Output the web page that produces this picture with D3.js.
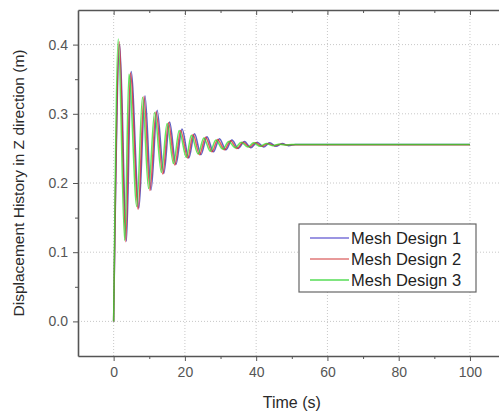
<!DOCTYPE html>
<html>
<head>
<meta charset="utf-8">
<script src="https://cdn.jsdelivr.net/npm/d3@7"></script>
<style>
  body { margin: 0; background: #fff; }
  svg { display: block; font-family: "Liberation Sans", Arial, sans-serif; }
  .axis path, .axis line { stroke: #555; }
  .axis text { fill: #555; font-size: 14px; font-family: "Liberation Sans", Arial, sans-serif; }
</style>
</head>
<body>
<div id="chart"></div>
<script>
const WIDTH = 499, HEIGHT = 414;
const PLOT = {left: 78, top: 10, right: 505.6, bottom: 356};

// series (peaks and troughs)
const seriesNames = ["Mesh Design 1", "Mesh Design 2", "Mesh Design 3"];
const seriesColors = ["#2c2cb0", "#e02a2a", "#2ee02e"];
const legendColors = ["#7a72d8", "#e07878", "#56dc56"];

const time1 = [0, 1.7, 3.6, 4.9, 7.1, 8.8, 10.5, 12.2, 14.1, 15.7, 17.5, 19.2, 21.1, 22.7, 24.5, 26.2, 28.0, 29.7, 31.5, 33.2, 35.0, 36.7, 38.5, 40.3, 42.1, 43.8, 45.6, 47.3, 49.1, 51, 60, 70, 80, 90, 100];
const disp1 = [0, 0.400, 0.116, 0.361, 0.164, 0.326, 0.190, 0.305, 0.214, 0.288, 0.227, 0.278, 0.236, 0.271, 0.241, 0.267, 0.245, 0.264, 0.248, 0.262, 0.250, 0.260, 0.251, 0.259, 0.252, 0.258, 0.253, 0.257, 0.254, 0.2555, 0.2555, 0.2555, 0.2555, 0.2555, 0.2555];

const time2 = [0, 1.6, 3.4, 4.7, 6.9, 8.5, 10.2, 11.9, 13.8, 15.4, 17.2, 18.8, 20.8, 22.3, 24.1, 25.8, 27.6, 29.2, 31.1, 32.8, 34.6, 36.3, 38.1, 39.8, 41.6, 43.3, 45.1, 46.8, 48.6, 50, 60, 70, 80, 90, 100];
const disp2 = [0, 0.404, 0.115, 0.359, 0.162, 0.325, 0.189, 0.303, 0.213, 0.287, 0.226, 0.276, 0.236, 0.270, 0.241, 0.266, 0.245, 0.263, 0.248, 0.261, 0.250, 0.259, 0.252, 0.258, 0.253, 0.257, 0.254, 0.256, 0.255, 0.2552, 0.2552, 0.2552, 0.2552, 0.2552, 0.2552];

const time3 = [0, 1.3, 3.1, 4.3, 6.5, 8.1, 9.8, 11.5, 13.4, 15.0, 16.8, 18.4, 20.4, 21.8, 23.7, 25.3, 27.1, 28.7, 30.6, 32.3, 34.1, 35.8, 37.6, 39.3, 41.1, 42.8, 44.6, 46.3, 48.1, 50, 60, 70, 80, 90, 100];
const disp3 = [0, 0.408, 0.117, 0.357, 0.166, 0.324, 0.192, 0.302, 0.215, 0.286, 0.228, 0.276, 0.237, 0.269, 0.242, 0.265, 0.246, 0.262, 0.249, 0.260, 0.251, 0.259, 0.252, 0.258, 0.253, 0.257, 0.254, 0.256, 0.255, 0.2555, 0.2555, 0.2555, 0.2555, 0.2555, 0.2555];

const xTicks = [0, 20, 40, 60, 80, 100];
const xMinor = [10, 30, 50, 70, 90];
const yTicks = [0.0, 0.1, 0.2, 0.3, 0.4];
const yMinor = [0.05, 0.15, 0.25, 0.35];

const series = [
  {name: seriesNames[0], color: seriesColors[0], t: time1, v: disp1},
  {name: seriesNames[1], color: seriesColors[1], t: time2, v: disp2},
  {name: seriesNames[2], color: seriesColors[2], t: time3, v: disp3}
];

var x = d3.scaleLinear().domain([-10, 110]).range([PLOT.left, PLOT.right]);
var y = d3.scaleLinear().domain([-0.05, 0.45]).range([PLOT.bottom, PLOT.top]);

const svg = d3.select("#chart").append("svg")
    .attr("width", WIDTH)
    .attr("height", HEIGHT);

// dotted grid
const grid = svg.append("g");
grid.selectAll(".vgrid").data(xTicks).enter().append("line")
    .attr("x1", d => x(d)).attr("x2", d => x(d))
    .attr("y1", PLOT.top).attr("y2", PLOT.bottom)
    .attr("stroke", "#c8c8c8").attr("stroke-dasharray", "1,2");
grid.selectAll(".hgrid").data(yTicks).enter().append("line")
    .attr("x1", PLOT.left).attr("x2", PLOT.right)
    .attr("y1", d => y(d)).attr("y2", d => y(d))
    .attr("stroke", "#c8c8c8").attr("stroke-dasharray", "1,2");

// curves
const line = d3.line()
    .x(d => x(d[0]))
    .y(d => y(d[1]))
    .curve(d3.curveMonotoneX);

svg.append("g").selectAll("path").data(series).enter().append("path")
    .attr("d", s => line(s.t.map((t, i) => [t, s.v[i]])))
    .attr("fill", "none")
    .attr("stroke", s => s.color)
    .attr("stroke-width", 1.5)
    .attr("stroke-opacity", 0.75)
    .attr("stroke-linejoin", "round");

// axes
svg.append("g").classed("axis", true)
    .attr("transform", `translate(0,${PLOT.bottom})`)
    .call(d3.axisBottom(x).tickValues(xTicks).tickSize(5).tickSizeOuter(0).tickPadding(6).tickFormat(d3.format("d")));
svg.append("g").classed("axis", true)
    .attr("transform", `translate(0,${PLOT.bottom})`)
    .call(d3.axisBottom(x).tickValues(xMinor).tickSize(3).tickSizeOuter(0).tickFormat(""))
    .select(".domain").remove();

// mirrored top axis, ticks pointing inward
svg.append("g").classed("axis", true)
    .attr("transform", `translate(0,${PLOT.top})`)
    .call(d3.axisBottom(x).tickValues(xTicks).tickSize(5).tickSizeOuter(0).tickFormat(""));
svg.append("g").classed("axis", true)
    .attr("transform", `translate(0,${PLOT.top})`)
    .call(d3.axisBottom(x).tickValues(xMinor).tickSize(3).tickSizeOuter(0).tickFormat(""))
    .select(".domain").remove();

svg.append("g").classed("axis", true)
    .attr("transform", `translate(${PLOT.left},0)`)
    .call(d3.axisLeft(y).tickValues(yTicks).tickSize(5).tickSizeOuter(0).tickPadding(5).tickFormat(d3.format(".1f")));
svg.append("g").classed("axis", true)
    .attr("transform", `translate(${PLOT.left},0)`)
    .call(d3.axisLeft(y).tickValues(yMinor).tickSize(3).tickSizeOuter(0).tickFormat(""))
    .select(".domain").remove();

svg.selectAll(".axis .domain").attr("stroke-width", 1.6);

// axis titles
svg.append("text")
    .attr("x", (PLOT.left + PLOT.right) / 2)
    .attr("y", 408)
    .attr("text-anchor", "middle")
    .attr("fill", "#2a2a2a")
    .style("font-size", "16px")
    .text("Time (s)");

svg.append("text")
    .attr("transform", `translate(24,${(PLOT.top + PLOT.bottom) / 2}) rotate(-90)`)
    .attr("text-anchor", "middle")
    .attr("fill", "#2a2a2a")
    .style("font-size", "15.5px")
    .text("Displacement History in Z direction (m)");

// legend
const legend = svg.append("g").attr("transform", "translate(299,224)");
legend.append("rect")
    .attr("width", 177).attr("height", 68)
    .attr("fill", "#fff").attr("stroke", "#666").attr("stroke-width", 1.2);

const rows = legend.selectAll(".row").data(series).enter().append("g")
    .attr("transform", (d, i) => `translate(0,${14 + i * 21})`);
rows.append("line")
    .attr("x1", 11).attr("x2", 50)
    .attr("stroke", (d, i) => legendColors[i]).attr("stroke-width", 1.4);
rows.append("text")
    .attr("x", 52).attr("dy", "0.36em")
    .attr("fill", "#222")
    .style("font-size", "16.5px")
    .text(d => d.name);
</script>
</body>
</html>
